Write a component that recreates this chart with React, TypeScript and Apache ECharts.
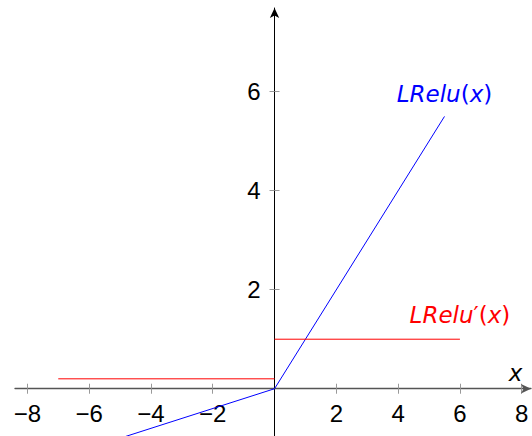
import React, { useEffect, useRef } from "react";
import * as echarts from "echarts";

// ---- data ----
const lreluX = [-7, 0, 5.5];
const lreluY = [-1.4, 0, 5.5];
const dLeftX = [-7, 0];
const dLeftY = [0.2, 0.2];
const dRightX = [0, 6];
const dRightY = [1, 1];
const xTicks = [-8, -6, -4, -2, 2, 4, 6, 8];
const yTicks = [2, 4, 6];
const xRange = [-8.4, 8.3];
const yRange = [-0.955, 7.69];

// label anchors (data coordinates)
const lreluLabelAt = [5.5, 5.95];
const dLabelAt = [6, 1.49];
const xLabelAt = [7.8, 0.32];

const zip = (xs: number[], ys: number[]) => xs.map((x, i) => [x, ys[i]]);
const fmt = (v: number) => (v < 0 ? "\u2212" + Math.abs(v) : String(v));

const TICK_FONT = "'Liberation Sans', sans-serif";
const LABEL_FONT = "'DejaVu Sans', sans-serif";

const W = 532;
const H = 436;
const G = { left: 15, right: 1, top: 8, bottom: 0 };

export default function App() {
  const ref = useRef<HTMLDivElement>(null);
  useEffect(() => {
    if (!ref.current) return;
    const chart = echarts.init(ref.current, undefined, { renderer: "svg" });

    const gw = W - G.left - G.right;
    const gh = H - G.top - G.bottom;
    // pixel positions of the zero lines, derived from the axis ranges
    const x0px = G.left + ((0 - xRange[0]) / (xRange[1] - xRange[0])) * gw;
    const y0px = G.top + ((yRange[1] - 0) / (yRange[1] - yRange[0])) * gh;

    const gridBase = { outerBoundsMode: "none", containLabel: false };
    const grids = [
      { ...gridBase, ...G },
      { ...gridBase, left: G.left, right: G.right, top: G.top, bottom: H - y0px },
      { ...gridBase, left: G.left, right: G.right, top: y0px, bottom: G.bottom },
      { ...gridBase, left: x0px, right: G.right, top: G.top, bottom: G.bottom },
      { ...gridBase, left: G.left, right: W - x0px, top: G.top, bottom: G.bottom },
    ];

    const hidden = { show: false };
    const xv = (gridIndex: number, extra: any) => ({
      type: "value",
      gridIndex,
      min: xRange[0],
      max: xRange[1],
      splitLine: { show: false },
      ...extra,
    });
    const yv = (gridIndex: number, extra: any) => ({
      type: "value",
      gridIndex,
      min: yRange[0],
      max: yRange[1],
      splitLine: { show: false },
      ...extra,
    });
    const tickStyle = { color: "#999", width: 1 };
    const labelStyle = {
      show: true,
      formatter: fmt,
      color: "#000",
      fontFamily: TICK_FONT,
      fontSize: 24,
    };

    const mk = (coord: number[], text: string, color: string) => ({
      symbol: "circle",
      symbolSize: 0,
      silent: true,
      data: [
        {
          coord,
          label: {
            show: true,
            position: "inside",
            formatter: text,
            color,
            fontFamily: LABEL_FONT,
            fontSize: 23,
            rich: {
              i: { color, fontStyle: "italic", fontFamily: LABEL_FONT, fontSize: 23 },
              n: { color, fontStyle: "normal", fontFamily: LABEL_FONT, fontSize: 23 },
            },
          },
        },
      ],
    });

    chart.setOption({
      animation: false,
      backgroundColor: "#fff",
      grid: grids,
      xAxis: [
        xv(0, hidden),
        xv(1, {
          position: "bottom",
          axisLine: {
            show: true,
            onZero: false,
            lineStyle: { color: "#555", width: 1.3 },
            symbol: ["none", "arrow"],
            symbolSize: [7, 10],
          },
          axisTick: {
            show: true,
            inside: false,
            length: 5,
            customValues: xTicks,
            lineStyle: tickStyle,
          },
          axisLabel: { ...labelStyle, customValues: xTicks, margin: 13 },
        }),
        xv(2, {
          position: "top",
          axisLine: { show: false, onZero: false },
          axisTick: {
            show: true,
            inside: false,
            length: 5,
            customValues: xTicks,
            lineStyle: tickStyle,
          },
          axisLabel: { show: false },
        }),
        xv(3, hidden),
        xv(4, hidden),
      ],
      yAxis: [
        yv(0, hidden),
        yv(1, hidden),
        yv(2, hidden),
        yv(3, {
          position: "left",
          axisLine: {
            show: true,
            onZero: false,
            lineStyle: { color: "#000", width: 1 },
            symbol: ["none", "arrow"],
            symbolSize: [7, 10],
          },
          axisTick: {
            show: true,
            inside: false,
            length: 5,
            customValues: yTicks,
            lineStyle: tickStyle,
          },
          axisLabel: { ...labelStyle, customValues: yTicks, margin: 14 },
        }),
        yv(4, {
          position: "right",
          axisLine: { show: false, onZero: false },
          axisTick: {
            show: true,
            inside: false,
            length: 5,
            customValues: yTicks,
            lineStyle: tickStyle,
          },
          axisLabel: { show: false },
        }),
      ],
      series: [
        {
          name: "LRelu",
          type: "line",
          xAxisIndex: 0,
          yAxisIndex: 0,
          data: zip(lreluX, lreluY),
          showSymbol: false,
          clip: true,
          lineStyle: { color: "#0000ff", width: 1 },
          itemStyle: { color: "#0000ff" },
          markPoint: mk(lreluLabelAt, "{i|LRelu}{n|(}{i|x}{n|)}", "#0000ff"),
          z: 3,
        },
        {
          name: "dLeft",
          type: "line",
          xAxisIndex: 0,
          yAxisIndex: 0,
          data: zip(dLeftX, dLeftY),
          showSymbol: false,
          clip: true,
          lineStyle: { color: "#ff0000", width: 1 },
          itemStyle: { color: "#ff0000" },
          z: 3,
        },
        {
          name: "dRight",
          type: "line",
          xAxisIndex: 0,
          yAxisIndex: 0,
          data: zip(dRightX, dRightY),
          showSymbol: false,
          clip: true,
          lineStyle: { color: "#ff0000", width: 1 },
          itemStyle: { color: "#ff0000" },
          markPoint: mk(dLabelAt, "{i|LRelu}{n|\u2032(}{i|x}{n|)}", "#ff0000"),
          z: 3,
        },
        {
          name: "xlabel",
          type: "line",
          xAxisIndex: 0,
          yAxisIndex: 0,
          data: [],
          showSymbol: false,
          markPoint: mk(xLabelAt, "{i|x}", "#000"),
        },
      ],
    });
    return () => chart.dispose();
  }, []);
  return (
    <div
      ref={ref}
      style={{ position: "absolute", left: 0, top: 0, width: W, height: H }}
    />
  );
}
